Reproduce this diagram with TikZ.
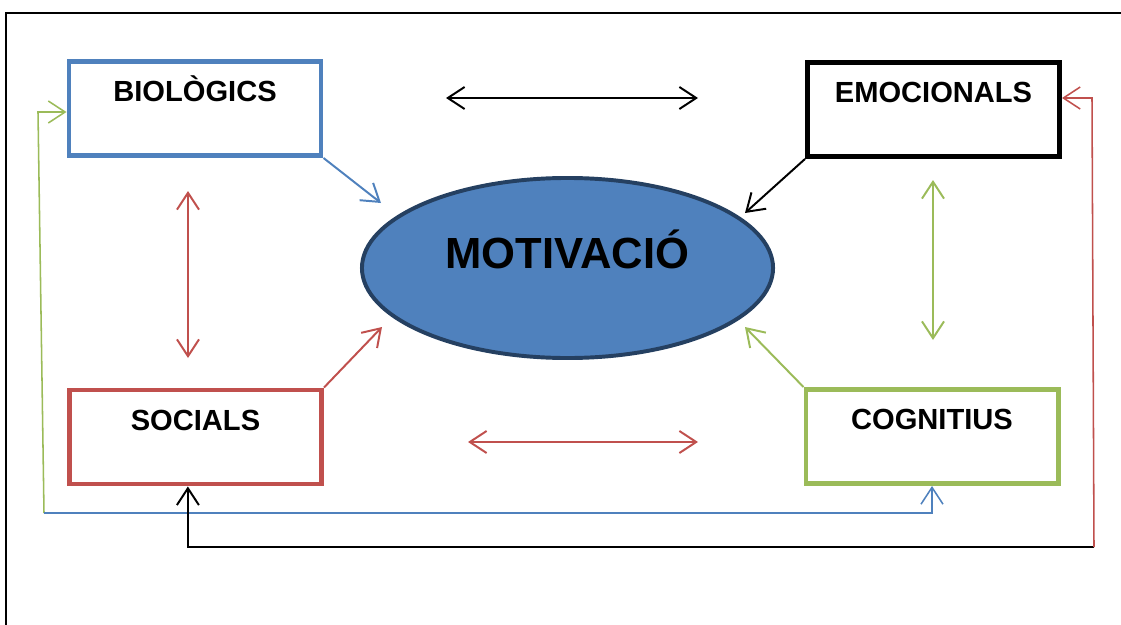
\documentclass[tikz,border=0pt]{standalone}
\usepackage{fontspec}
\setmainfont{Liberation Sans}
\usetikzlibrary{arrows.meta,shapes.geometric}
\definecolor{blau}{HTML}{4F81BD}
\definecolor{vermell}{HTML}{C0504D}
\definecolor{verd}{HTML}{9BBB59}
\definecolor{blaufosc}{HTML}{254061}
\begin{document}
\begin{tikzpicture}[
    x=0.025cm, y=-0.025cm,
    >={Straight Barb[length=0.42cm,width=0.55cm]},
    factor/.style = { draw, rectangle, line width=3.5pt, minimum width=6.3cm,
        minimum height=2.35cm, inner sep=0pt, text height=1.0cm, text depth=1.35cm,
        font=\fontsize{20.7}{24}\selectfont\bfseries },
    link/.style = { line width=1.4pt, -> },
    doble/.style = { line width=1.4pt, <-> },
    volta/.style = { line width=1.1pt, -> }
    ]
\useasboundingbox (0,0) rectangle (1121,625);
\draw[line width=1pt] (6,640) -- (6,13) -- (1130,13);
%
\node[factor, draw=blau] (BIO) at (195,108.5) {BIOLÒGICS};
\node[factor] (EMO) at (933.5,109.5) {EMOCIONALS\hspace{0.25cm}};
\node[factor, draw=vermell] (SOC) at (195.5,437) {SOCIALS};
\node[factor, draw=verd] (COG) at (932,436.5) {COGNITIUS};
\node[ellipse, draw=blaufosc, fill=blau, line width=2.8pt, minimum width=10.275cm,
    minimum height=4.5cm, inner sep=0pt, text height=0.8cm, text depth=0.8cm,
    font=\fontsize{31}{36}\selectfont\bfseries] (MOT) at (567.5,268) {MOTIVACIÓ};
%
\coordinate (bioM) at (381,203);
\coordinate (emoM) at (745,213);
\coordinate (socM) at (382,327);
\coordinate (cogM) at (745,327);
\coordinate (daltE) at (446,98);
\coordinate (daltD) at (698,98);
\coordinate (baixE) at (468,442);
\coordinate (baixD) at (698,442);
\coordinate (esqA) at (188,191);
\coordinate (esqB) at (188,358);
\coordinate (dretA) at (933,180);
\coordinate (dretB) at (933,340);
%
\foreach \Source/\Target/\Color in {%
        BIO.south east/bioM/blau,
        EMO.south west/emoM/black,
        SOC.north east/socM/vermell,
        COG.north west/cogM/verd%
    }
\draw[link, \Color] (\Source) to (\Target);
%
\draw[doble] (daltE) to (daltD);
\draw[doble, vermell] (baixE) to (baixD);
\draw[doble, vermell] (esqA) to (esqB);
\draw[doble, verd] (dretA) to (dretB);
%
\coordinate (verdIni) at (44,513);
\coordinate (verdDalt) at (38,112);
\coordinate (negIni) at (1094,547);
\coordinate (vermDalt) at (1092,98);
\coordinate (socB) at ([xshift=-0.19cm]SOC.south);
\draw[volta, verd] (verdIni) -- (verdDalt) -- (BIO.west |- verdDalt);
\draw[volta, blau] (verdIni) -- (COG.south |- verdIni) -- (COG.south);
\draw[volta, line width=1.4pt] (negIni) -- (socB |- negIni) -- (socB);
\draw[volta, vermell] (negIni) -- (vermDalt) -- (EMO.east |- vermDalt);
\end{tikzpicture}
\end{document}
